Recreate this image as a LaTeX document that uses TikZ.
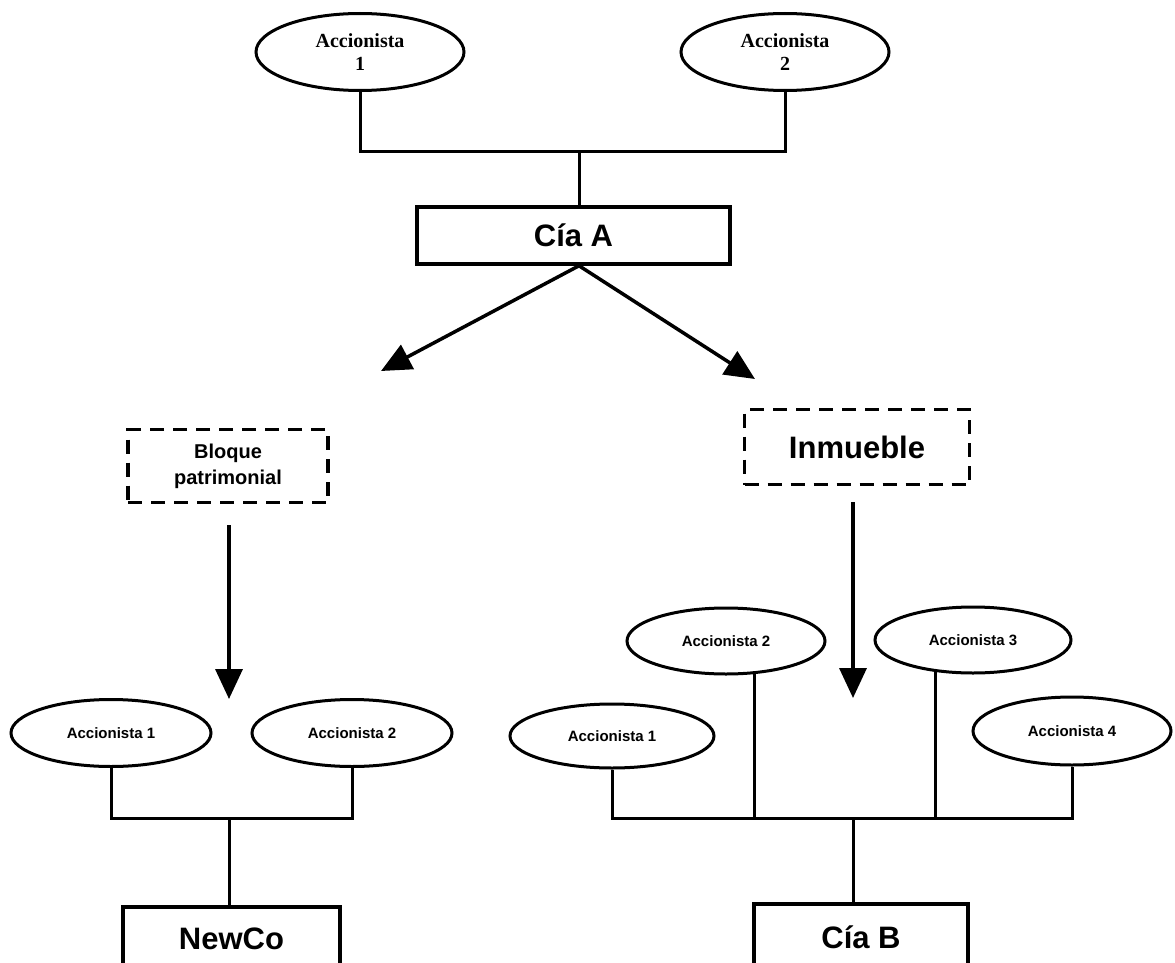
\documentclass[tikz,border=0pt]{standalone}
\usepackage{fontspec}
\setmainfont{Liberation Sans}
\newfontfamily\serifbf{Liberation Serif}
\usetikzlibrary{shapes.geometric,arrows.meta}
\begin{document}
\begin{tikzpicture}[x=1pt,y=-1pt,
  ln/.style={line width=3pt},
  arr/.style={line width=3.5pt,-{Triangle[length=30pt,width=27pt]}},
  ell/.style={ellipse,draw,line width=3pt,inner sep=0pt,align=center},
  box/.style={rectangle,draw,line width=3.5pt,inner sep=0pt,font=\fontsize{31}{35}\selectfont\bfseries},
  dbox/.style={rectangle,draw,line width=3.5pt,dash pattern=on 14pt off 9pt,inner sep=0pt,align=center},
  tops/.style={font=\serifbf\fontsize{20}{23}\selectfont\bfseries},
  sacc/.style={font=\fontsize{15}{17}\selectfont\bfseries}]
\clip (0,0) rectangle (1175,963);
\fill[white] (0,0) rectangle (1175,963);
% top
\node[ell,tops,minimum width=208pt,minimum height=77pt] (t1) at (360,52) {Accionista\\1};
\node[ell,tops,minimum width=208pt,minimum height=77pt] (t2) at (785,52) {Accionista\\2};
\coordinate (j1) at (579,152);
\draw[ln] (t1.south) |- (j1) -| (t2.south);
\node[box,minimum width=313pt,minimum height=57pt] (ciaA) at (573.5,235.5) {Cía A};
\draw[ln] (j1) -- (j1 |- ciaA.north);
\coordinate (tipL) at (381,371);
\coordinate (tipR) at (755,379);
\draw[arr] (j1 |- ciaA.south) -- (tipL);
\draw[arr] (j1 |- ciaA.south) -- (tipR);
% middle
\node[dbox,minimum width=200pt,minimum height=73pt,font=\fontsize{20}{26}\selectfont\bfseries] (bloque) at (228,466) {Bloque\\patrimonial};
\node[dbox,minimum width=225pt,minimum height=75pt,font=\fontsize{31}{36}\selectfont\bfseries] (inm) at (857,447) {Inmueble};
\coordinate (sB) at (229,525);
\coordinate (tipB) at (229,699);
\draw[arr] (sB) -- (tipB);
\coordinate (sI) at (853,502);
\coordinate (tipI) at (853,698);
\draw[arr] (sI) -- (tipI);
% bottom left
\node[ell,sacc,minimum width=200pt,minimum height=67pt] (l1) at (111,733) {Accionista 1};
\node[ell,sacc,minimum width=200pt,minimum height=67pt] (l2) at (352,733) {Accionista 2};
\coordinate (jL) at (229,818);
\draw[ln] (l1.south) |- (jL) -| (l2.south);
\node[box,minimum width=217pt,minimum height=64pt] (newco) at (231.5,939) {NewCo};
\draw[ln] (jL) -- (jL |- newco.north);
% bottom right
\node[ell,sacc,minimum width=204pt,minimum height=64pt] (r1) at (612,736) {Accionista 1};
\node[ell,sacc,minimum width=198pt,minimum height=66pt] (r2) at (726,641) {Accionista 2};
\node[ell,sacc,minimum width=196pt,minimum height=66pt] (r3) at (973,640) {Accionista 3};
\node[ell,sacc,minimum width=198pt,minimum height=68pt] (r4) at (1072,731) {Accionista 4};
\coordinate (jR) at (853,818);
\draw[ln] (r1.south) |- (jR) -| (r4.south);
\draw[ln] (r2.311.5) -- (r2.311.5 |- jR);
\draw[ln] (r3.220.5) -- (r3.220.5 |- jR);
\node[box,minimum width=214pt,minimum height=66pt] (ciaB) at (861,937) {Cía B};
\draw[ln] (jR) -- (jR |- ciaB.north);
\end{tikzpicture}
\end{document}
